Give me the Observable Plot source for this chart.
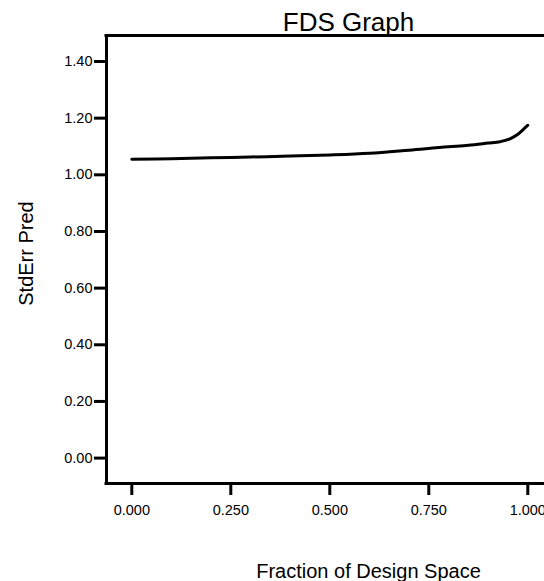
<!DOCTYPE html>
<html><head><meta charset="utf-8">
<script src="https://cdn.jsdelivr.net/npm/d3@7"></script>
<script src="https://cdn.jsdelivr.net/npm/@observablehq/plot@0.6"></script>
<style>body{margin:0;background:#fff;overflow:hidden}</style>
</head><body><div id="chart"></div>
<script>
const fraction = [0, 0.1, 0.2, 0.3, 0.4, 0.5, 0.6, 0.7, 0.8, 0.85, 0.9, 0.93, 0.955, 0.975, 0.99, 1.0];
const stdErr   = [1.055, 1.057, 1.060, 1.063, 1.066, 1.070, 1.076, 1.087, 1.099, 1.104, 1.112, 1.117, 1.127, 1.143, 1.162, 1.175];
const xTicks = [0, 0.25, 0.5, 0.75, 1.0];
const yTicks = [0, 0.2, 0.4, 0.6, 0.8, 1.0, 1.2, 1.4];
const titleText = "FDS Graph";
const xLabel = "Fraction of Design Space";
const yLabel = "StdErr Pred";
const xDomain = [-0.0639, 1.0422];
const yDomain = [-0.0897, 1.4918];

const data = fraction.map((f, i) => ({f, s: stdErr[i]}));
const font = "'Liberation Sans', Arial, sans-serif";

const chart = Plot.plot({
  width: 544, height: 581,
  marginLeft: 106, marginRight: 0, marginTop: 35, marginBottom: 98,
  style: {fontFamily: font, color: "#000", background: "#fff", overflow: "visible"},
  x: {domain: xDomain},
  y: {domain: yDomain},
  marks: [
    Plot.ruleY([yDomain[1]], {strokeWidth: 3, stroke: "#000", insetLeft: -1.5}),
    Plot.ruleY([yDomain[0]], {strokeWidth: 3, stroke: "#000", insetLeft: -1.5}),
    Plot.ruleX([xDomain[0]], {strokeWidth: 3, stroke: "#000"}),
    Plot.axisY({ticks: yTicks, tickFormat: d3.format(".2f"), tickSize: 12, tickPadding: 2, strokeWidth: 3, fontSize: 14.5, label: null}),
    Plot.axisX({ticks: xTicks, tickFormat: d3.format(".3f"), tickSize: 10, tickPadding: 9, dy: 2, strokeWidth: 3, fontSize: 14.5, label: null}),
    Plot.line(data, {x: "f", y: "s", curve: "monotone-x", strokeWidth: 3, stroke: "#000"}),
    Plot.text([titleText], {text: d => d, frameAnchor: "top", dx: 23, dy: -4.5, lineAnchor: "bottom", textAnchor: "middle", fontSize: 26}),
    Plot.text([xLabel], {text: d => d, frameAnchor: "bottom", dx: 43, dy: 94, lineAnchor: "bottom", textAnchor: "middle", fontSize: 20}),
    Plot.text([yLabel], {text: d => d, frameAnchor: "left", rotate: -90, dx: -74, dy: -6, lineAnchor: "bottom", textAnchor: "middle", fontSize: 20})
  ]
});
document.getElementById("chart").appendChild(chart);
</script>
</body></html>
